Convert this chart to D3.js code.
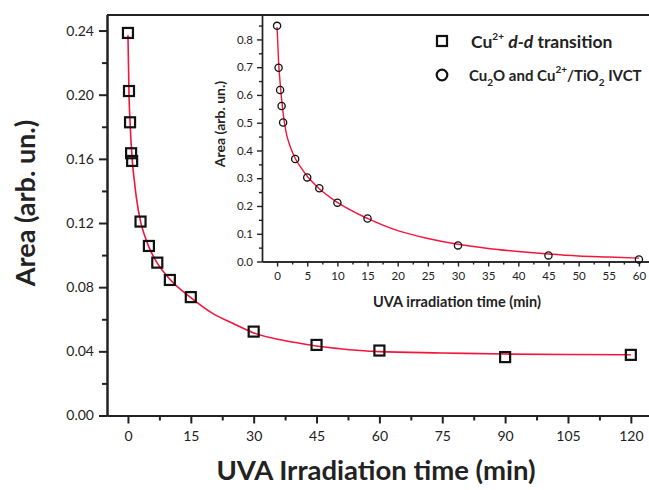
<!DOCTYPE html>
<html><head><meta charset="utf-8">
<script src="https://cdn.jsdelivr.net/npm/d3@7/dist/d3.min.js"></script>
<style>
body{margin:0;background:#fff;}
svg text{font-family:Lato, "Open Sans", sans-serif;fill:#222;}
</style></head>
<body><svg id="c" width="649" height="490"></svg>
<script>
// Main data: Cu2+ d-d transition
const mainTime = [0, 0.25, 0.5, 0.75, 1, 3, 5, 7, 10, 15, 30, 45, 60, 90, 120];
const mainArea = [0.2385, 0.2023, 0.1828, 0.1635, 0.1587, 0.1209, 0.1057, 0.0953, 0.0845, 0.0738, 0.0523, 0.0440, 0.0405, 0.0364, 0.0378];
// Main fit curve
const mainFitTime = [0, 0.25, 0.5, 1, 1.5, 2, 3, 4, 5, 7, 10, 15, 20, 25, 30, 40, 45, 50, 60, 75, 90, 105, 120];
const mainFitArea = [0.237, 0.200, 0.183, 0.160, 0.147, 0.136, 0.121, 0.112, 0.105, 0.095, 0.085, 0.0735, 0.064, 0.0575, 0.0515, 0.0455, 0.0433, 0.0418, 0.0398, 0.0390, 0.0383, 0.0380, 0.0379];
// Inset data: Cu2O and Cu2+/TiO2 IVCT
const insetTime = [0, 0.25, 0.5, 0.75, 1, 3, 5, 7, 10, 15, 30, 45, 60];
const insetArea = [0.849, 0.698, 0.618, 0.560, 0.501, 0.369, 0.303, 0.264, 0.212, 0.155, 0.058, 0.022, 0.007];
const insetFitTime = [0, 0.25, 0.5, 0.75, 1, 1.5, 2, 3, 4, 5, 7, 10, 15, 20, 25, 30, 35, 40, 45, 50, 55, 60];
const insetFitArea = [0.845, 0.72, 0.645, 0.585, 0.535, 0.465, 0.425, 0.372, 0.337, 0.307, 0.262, 0.213, 0.155, 0.111, 0.083, 0.062, 0.047, 0.036, 0.027, 0.020, 0.016, 0.012];
// Ticks
const mainXTicks = [0, 15, 30, 45, 60, 75, 90, 105, 120];
const mainYTicks = [0, 0.04, 0.08, 0.12, 0.16, 0.20, 0.24];
const insetXTicks = [0, 5, 10, 15, 20, 25, 30, 35, 40, 45, 50, 55, 60];
const insetYTicks = [0, 0.1, 0.2, 0.3, 0.4, 0.5, 0.6, 0.7, 0.8];

const svg = d3.select("#c");
const RED = "#f5143c";

// ---------- main scales ----------
const x = d3.scaleLinear().domain([-5, 125]).range([107, 651.8]);
const y = d3.scaleLinear().domain([0, 0.25]).range([415.5, 14.5]);

// top frame line
svg.append("line").attr("x1", 107).attr("x2", 649).attr("y1", 15).attr("y2", 15)
  .attr("stroke", "#222").attr("stroke-width", 2);

function styleAxis(g, w) {
  g.select(".domain").attr("stroke", "#222").attr("stroke-width", w);
  g.selectAll(".tick line").attr("stroke", "#222").attr("stroke-width", w);
}

// minor ticks
const mainXMinor = mainXTicks.slice(0, -1).map(v => v + 7.5);
svg.append("g").attr("transform", "translate(0,415.5)")
  .call(d3.axisBottom(x).tickValues(mainXMinor).tickSize(5).tickSizeOuter(0).tickFormat(""))
  .call(g => styleAxis(g, 2));
const gx = svg.append("g").attr("transform", "translate(0,415.5)")
  .call(d3.axisBottom(x).tickValues(mainXTicks).tickSize(8).tickSizeOuter(0).tickPadding(8).tickFormat(d3.format("d")))
  .call(g => styleAxis(g, 2));
gx.selectAll("text").attr("font-size", 14).attr("fill", "#222");

const mainYMinor = mainYTicks.map(v => v + 0.02).filter(v => v < 0.25);
svg.append("g").attr("transform", "translate(107,0)")
  .call(d3.axisLeft(y).tickValues(mainYMinor).tickSize(5).tickSizeOuter(0).tickFormat(""))
  .call(g => styleAxis(g, 2));
const gy = svg.append("g").attr("transform", "translate(107,0)")
  .call(d3.axisLeft(y).tickValues(mainYTicks).tickSize(8).tickSizeOuter(0).tickPadding(5).tickFormat(d3.format(".2f")))
  .call(g => styleAxis(g, 2));
gy.selectAll("text").attr("font-size", 14).attr("fill", "#222");

// axis titles
svg.append("text").attr("transform", "translate(35,203) rotate(-90)")
  .attr("text-anchor", "middle").attr("font-size", 27).attr("font-weight", "bold").text("Area (arb. un.)");
svg.append("text").attr("x", 376).attr("y", 480)
  .attr("text-anchor", "middle").attr("font-size", 27.5).attr("font-weight", "bold").text("UVA Irradiation time (min)");

// main fit line
const lineMain = d3.line().x((d, i) => x(mainFitTime[i])).y(d => y(d)).curve(d3.curveMonotoneX);
svg.append("path").datum(mainFitArea).attr("d", lineMain)
  .attr("fill", "none").attr("stroke", RED).attr("stroke-width", 1.6);

// main squares
const s = 10;
svg.append("g").selectAll("rect").data(mainArea).join("rect")
  .attr("x", (d, i) => x(mainTime[i]) - s / 2).attr("y", d => y(d) - s / 2)
  .attr("width", s).attr("height", s)
  .attr("fill", "none").attr("stroke", "#111").attr("stroke-width", 2.2);

// ---------- inset ----------
const xi = d3.scaleLinear().domain([-2.5, 62.5]).range([262, 654]);
const yi = d3.scaleLinear().domain([0, 0.888]).range([261.5, 15]);

const insetXMinor = insetXTicks.map(v => v + 2.5).filter(v => v < 62.5);
svg.append("g").attr("transform", "translate(0,261.5)")
  .call(d3.axisBottom(xi).tickValues(insetXMinor).tickSize(3).tickSizeOuter(0).tickFormat(""))
  .call(g => styleAxis(g, 1.4));
const gxi = svg.append("g").attr("transform", "translate(0,261.5)")
  .call(d3.axisBottom(xi).tickValues(insetXTicks).tickSize(5).tickSizeOuter(0).tickPadding(5).tickFormat(d3.format("d")))
  .call(g => styleAxis(g, 1.4));
gxi.selectAll("text").attr("font-size", 11.5).attr("fill", "#222");

const insetYMinor = insetYTicks.map(v => v + 0.05).filter(v => v < 0.888);
svg.append("g").attr("transform", "translate(262,0)")
  .call(d3.axisLeft(yi).tickValues(insetYMinor).tickSize(3).tickSizeOuter(0).tickFormat(""))
  .call(g => styleAxis(g, 1.4));
const gyi = svg.append("g").attr("transform", "translate(262,0)")
  .call(d3.axisLeft(yi).tickValues(insetYTicks).tickSize(5).tickSizeOuter(0).tickPadding(4).tickFormat(d3.format(".1f")))
  .call(g => styleAxis(g, 1.4));
gyi.selectAll("text").attr("font-size", 11.5).attr("fill", "#222");

svg.append("text").attr("transform", "translate(225,124) rotate(-90)")
  .attr("text-anchor", "middle").attr("font-size", 14).attr("font-weight", "bold").text("Area (arb. un.)");
svg.append("text").attr("x", 457).attr("y", 307)
  .attr("text-anchor", "middle").attr("font-size", 14.5).attr("font-weight", "bold").text("UVA irradiation time (min)");

const lineInset = d3.line().x((d, i) => xi(insetFitTime[i])).y(d => yi(d)).curve(d3.curveMonotoneX);
svg.append("path").datum(insetFitArea).attr("d", lineInset)
  .attr("fill", "none").attr("stroke", RED).attr("stroke-width", 1.4);

svg.append("g").selectAll("circle").data(insetArea).join("circle")
  .attr("cx", (d, i) => xi(insetTime[i])).attr("cy", d => yi(d)).attr("r", 3.6)
  .attr("fill", "none").attr("stroke", "#111").attr("stroke-width", 1.3);

// ---------- legend ----------
svg.append("rect").attr("x", 437).attr("y", 36).attr("width", 10).attr("height", 10)
  .attr("fill", "none").attr("stroke", "#111").attr("stroke-width", 2.2);
svg.append("circle").attr("cx", 442).attr("cy", 75).attr("r", 5.3)
  .attr("fill", "none").attr("stroke", "#111").attr("stroke-width", 2.2);

const t1 = svg.append("text").attr("x", 471).attr("y", 48).attr("font-size", 17.5).attr("font-weight", "bold");
t1.append("tspan").text("Cu");
t1.append("tspan").attr("dy", -8).attr("font-size", 10).text("2+");
t1.append("tspan").attr("dy", 8).text(" ");
t1.append("tspan").attr("font-style", "italic").text("d-d");
t1.append("tspan").text(" transition");

const t2 = svg.append("text").attr("x", 469).attr("y", 81).attr("font-size", 15).attr("font-weight", "bold");
t2.append("tspan").text("Cu");
t2.append("tspan").attr("dy", 5).attr("font-size", 10).text("2");
t2.append("tspan").attr("dy", -5).text("O and Cu");
t2.append("tspan").attr("dy", -8).attr("font-size", 10).text("2+");
t2.append("tspan").attr("dy", 8).text("/TiO");
t2.append("tspan").attr("dy", 5).attr("font-size", 10).text("2");
t2.append("tspan").attr("dy", -5).text(" IVCT");
</script></body></html>
